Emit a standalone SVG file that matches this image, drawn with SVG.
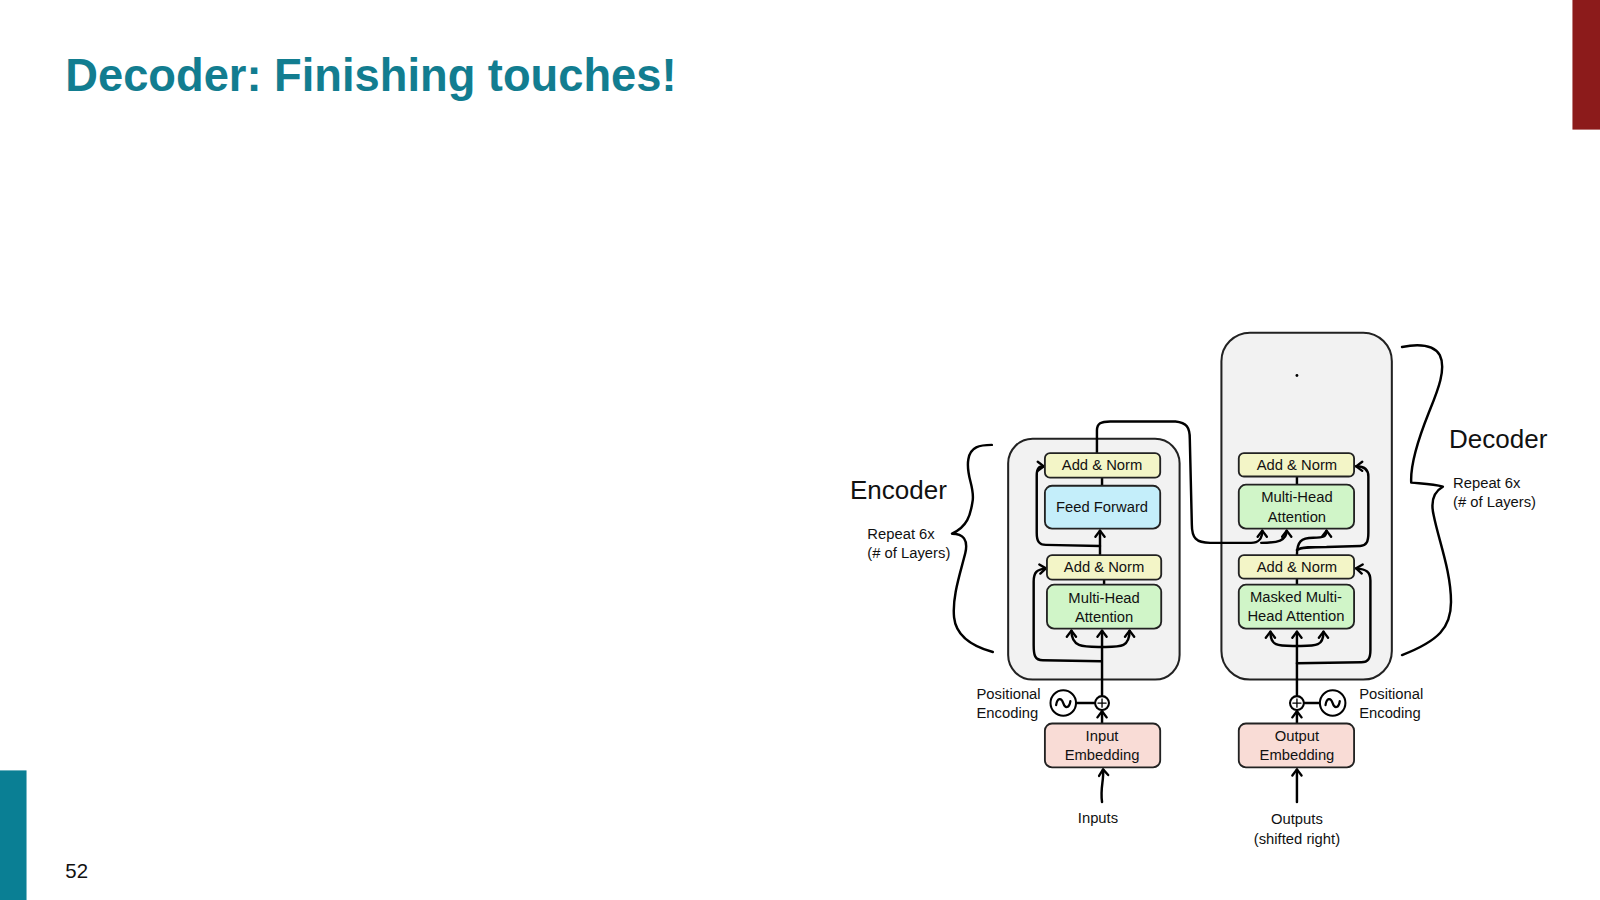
<svg xmlns="http://www.w3.org/2000/svg" width="1600" height="900" viewBox="0 0 1600 900">
<style>
text{font-family:"Liberation Sans",Arial,sans-serif;fill:#111}
.lbl{font-size:14.5px;text-anchor:middle}
.side{font-size:14.5px}
.big{font-size:25.5px}
.ln{fill:none;stroke:#000;stroke-width:2.4;stroke-linecap:round;stroke-linejoin:round}
.arr{marker-end:url(#ah)}
.box{stroke:#222;stroke-width:1.8}
.an{fill:#F3F5C7}
.ff{fill:#C4EEFA}
.mh{fill:#D0F5C8}
.em{fill:#F9DCD6}
.cont{fill:#F2F2F2;stroke:#222;stroke-width:2}
.circ{fill:#fff;stroke:#000;stroke-width:2}
</style>
<defs>
<marker id="ah" viewBox="-8 -6 10 12" refX="0" refY="0" markerWidth="10" markerHeight="12" markerUnits="userSpaceOnUse" orient="auto">
<path d="M-6,-4.5 L0,0 L-6,4.5" fill="none" stroke="#000" stroke-width="2.3" stroke-linecap="round" stroke-linejoin="round"/>
</marker>
</defs>
<rect x="0" y="0" width="1600" height="900" fill="#fff"/>
<g transform="scale(1.020408)">
<g id="slide">
<text x="64" y="89" textLength="599" lengthAdjust="spacingAndGlyphs" style="font-size:46px;font-weight:bold;fill:#127D90">Decoder: Finishing touches!</text>
<rect x="1541" y="0" width="27" height="127" fill="#8C1B1B"/>
<rect x="0" y="755" width="26" height="127" fill="#0A7F94"/>
<text x="64" y="860" style="font-size:20px">52</text>
</g>
<g id="encoder-container"><rect class="cont" x="988" y="430" width="168" height="236" rx="24"/></g>
<g id="decoder-container"><rect class="cont" x="1197" y="326" width="167" height="340" rx="28"/><circle cx="1271" cy="368" r="1.4" fill="#000"/></g>

<g id="connectors">
<!-- encoder -->
<path class="ln arr" d="M1080,786 C1078,772 1082,765 1081,754"/>
<path class="ln arr" d="M1080,709 L1080,697"/>
<path class="ln arr" d="M1080,681 L1080,618"/>
<path class="ln arr" d="M1080,634 C1062,634 1050,635 1050,618"/>
<path class="ln arr" d="M1080,634 C1098,634 1107,635 1107,618"/>
<path class="ln arr" d="M1079,648 L1022,647 C1014,647 1013,642 1013,632 L1013,570 C1013,561 1016,558 1025,557"/>
<path class="ln" d="M1082,567 L1082,573"/>
<path class="ln arr" d="M1078,544 L1078,520"/>
<path class="ln arr" d="M1078,535 L1025,534 C1018,534 1016,530 1016,522 L1016,466 C1016,459 1018,457 1023,457"/>
<path class="ln" d="M1080,468 L1080,476"/>
<path class="ln arr" d="M1075,444 L1075,422 C1075,415 1079,413 1088,413 L1152,413 C1163,414 1166,419 1166,430 L1168,514 C1168,527 1172,532 1186,532 L1226,532 C1234,532 1237,528 1237,520"/>
<path class="ln arr" d="M1236,532 C1252,532 1261,530 1261,520"/>
<!-- decoder -->
<path class="ln arr" d="M1271,786 L1271,754"/>
<path class="ln arr" d="M1271,709 L1271,697"/>
<path class="ln arr" d="M1271,681 L1271,619"/>
<path class="ln arr" d="M1271,633 C1253,633 1245,634 1245,619"/>
<path class="ln arr" d="M1271,633 C1289,633 1297,634 1297,619"/>
<path class="ln arr" d="M1271,650 L1334,649 C1341,649 1343,645 1343,637 L1343,569 C1343,560 1339,558 1329,557"/>
<path class="ln" d="M1271,567 L1271,573"/>
<path class="ln arr" d="M1271,544 C1271,531 1275,527 1287,527 C1297,527 1300,526 1300,520"/>
<path class="ln arr" d="M1271,539 C1275,536 1286,536 1300,536 L1333,535 C1339,535 1341,531 1341,522 L1341,467 C1341,460 1337,457 1329,457"/>
<path class="ln" d="M1271,467 L1271,475"/>
<!-- positional encoding links -->
<path class="ln" d="M1055,689 L1073,689"/>
<path class="ln" d="M1278,689 L1293,689"/>
</g>

<g id="enc-addnorm2"><rect class="box an" x="1024" y="444" width="113" height="24" rx="5"/><text class="lbl" x="1080" y="461">Add &amp; Norm</text></g>
<g id="enc-ff"><rect class="box ff" x="1024" y="476" width="113" height="42" rx="7"/><text class="lbl" x="1080" y="502">Feed Forward</text></g>
<g id="enc-addnorm1"><rect class="box an" x="1026" y="544" width="112" height="24" rx="5"/><text class="lbl" x="1082" y="561">Add &amp; Norm</text></g>
<g id="enc-mha"><rect class="box mh" x="1026" y="573" width="112" height="43" rx="7"/><text class="lbl" x="1082" y="591">Multi-Head</text><text class="lbl" x="1082" y="610">Attention</text></g>

<g id="dec-addnorm3"><rect class="box an" x="1214" y="444" width="113" height="23" rx="5"/><text class="lbl" x="1271" y="461">Add &amp; Norm</text></g>
<g id="dec-mha"><rect class="box mh" x="1214" y="475" width="113" height="43" rx="7"/><text class="lbl" x="1271" y="492">Multi-Head</text><text class="lbl" x="1271" y="512">Attention</text></g>
<g id="dec-addnorm1"><rect class="box an" x="1214" y="544" width="113" height="23" rx="5"/><text class="lbl" x="1271" y="561">Add &amp; Norm</text></g>
<g id="dec-mmha"><rect class="box mh" x="1214" y="573" width="113" height="43" rx="7"/><text class="lbl" x="1270" y="590">Masked Multi-</text><text class="lbl" x="1270" y="609">Head Attention</text></g>

<g id="enc-plus"><circle class="circ" cx="1080" cy="689" r="6.8"/><path class="ln" style="stroke-width:1.3" d="M1076,689 L1084,689 M1080,685 L1080,693"/></g>
<g id="enc-pe"><circle class="circ" cx="1042" cy="689" r="12.5"/><path class="ln" style="stroke-width:2.2" d="M1035,691 C1036,684 1040,683 1042,689 C1044,695 1048,694 1049,687"/>
<text class="side" x="957" y="685">Positional</text><text class="side" x="957" y="704">Encoding</text></g>
<g id="enc-embed"><rect class="box em" x="1024" y="709" width="113" height="43" rx="7"/><text class="lbl" x="1080" y="726">Input</text><text class="lbl" x="1080" y="745">Embedding</text></g>
<g id="inputs"><text class="lbl" x="1076" y="807">Inputs</text></g>

<g id="dec-plus"><circle class="circ" cx="1271" cy="689" r="6.8"/><path class="ln" style="stroke-width:1.3" d="M1267,689 L1275,689 M1271,685 L1271,693"/></g>
<g id="dec-pe"><circle class="circ" cx="1306" cy="689" r="12.5"/><path class="ln" style="stroke-width:2.2" d="M1299,691 C1300,684 1304,683 1306,689 C1308,695 1312,694 1313,687"/>
<text class="side" x="1332" y="685">Positional</text><text class="side" x="1332" y="704">Encoding</text></g>
<g id="dec-embed"><rect class="box em" x="1214" y="709" width="113" height="43" rx="7"/><text class="lbl" x="1271" y="726">Output</text><text class="lbl" x="1271" y="745">Embedding</text></g>
<g id="outputs"><text class="lbl" x="1271" y="808">Outputs</text><text class="lbl" x="1271" y="827">(shifted right)</text></g>

<g id="encoder-label">
<path class="ln" d="M972,436 C960,436 951,438 949,450 C946,466 956,478 953,492 C951,505 948,516 933,523 C944,523 949,529 946,542 C941,562 933,585 935,605 C937,625 955,634 973,639"/>
<text class="big" x="833" y="489">Encoder</text>
<text class="side" x="850" y="528">Repeat 6x</text><text class="side" x="850" y="547">(# of Layers)</text>
</g>
<g id="decoder-label">
<path class="ln" d="M1374,340 C1390,337 1405,338 1411,348 C1418,362 1408,385 1400,405 C1390,430 1382,455 1383,473 C1395,474 1405,474 1414,477 C1405,482 1402,492 1405,505 C1410,530 1422,560 1422,590 C1422,615 1410,628 1374,642"/>
<text class="big" x="1420" y="439">Decoder</text>
<text class="side" x="1424" y="478">Repeat 6x</text><text class="side" x="1424" y="497">(# of Layers)</text>
</g>
</g>
</svg>
